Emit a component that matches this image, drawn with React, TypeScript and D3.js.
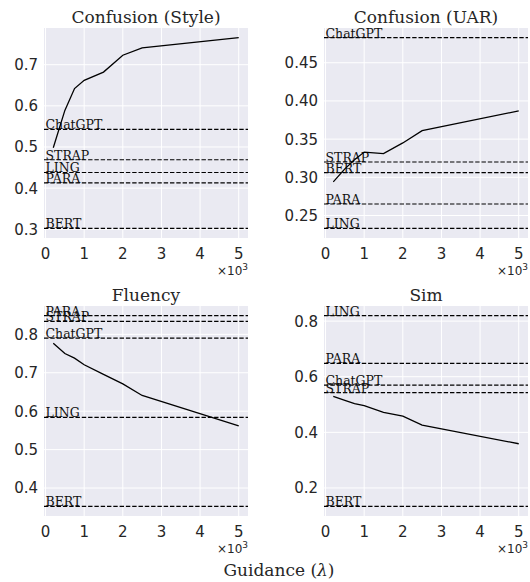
import React from 'react';
import * as d3 from 'd3';

// guidance strengths (lambda)
const lambdas = [200, 500, 750, 1000, 1500, 2000, 2500, 5000];
const xTicks = [0, 1000, 2000, 3000, 4000, 5000];
const baselineNames = ['ChatGPT', 'STRAP', 'LING', 'PARA', 'BERT'];

const styleValues = [0.498, 0.589, 0.642, 0.662, 0.682, 0.723, 0.741, 0.766];
const styleBaselines = [0.543, 0.469, 0.438, 0.413, 0.302];
const styleTicks = [0.3, 0.4, 0.5, 0.6, 0.7];

const uarValues = [0.294, 0.311, 0.323, 0.333, 0.331, 0.345, 0.361, 0.387];
const uarBaselines = [0.483, 0.32, 0.233, 0.265, 0.306];
const uarTicks = [0.25, 0.3, 0.35, 0.4, 0.45];

const fluencyValues = [0.777, 0.75, 0.738, 0.721, 0.696, 0.671, 0.641, 0.562];
const fluencyBaselines = [0.79, 0.834, 0.584, 0.849, 0.352];
const fluencyTicks = [0.4, 0.5, 0.6, 0.7, 0.8];

const simValues = [0.529, 0.515, 0.503, 0.496, 0.472, 0.458, 0.426, 0.359];
const simBaselines = [0.57, 0.543, 0.82, 0.648, 0.1335];
const simTicks = [0.2, 0.4, 0.6, 0.8];

const SERIF = '"DejaVu Serif", serif';
const SANS = '"DejaVu Sans", sans-serif';
const INK = '#262626';

interface PanelProps {
  title: string;
  values: number[];
  baselines: number[];
  yTicks: number[];
  digits: number;
  left: number;
  top: number;
}

const W = 204;
const H = 210;

// matplotlib-like 5% margins around the data
const padded = (lo: number, hi: number): [number, number] => {
  const m = (hi - lo) * 0.05;
  return [lo - m, hi + m];
};

const Panel: React.FC<PanelProps> = ({ title, values, baselines, yTicks, digits, left, top }) => {
  const x = d3.scaleLinear().domain(padded(d3.min(lambdas)!, d3.max(lambdas)!)).range([0, W]);
  const all = values.concat(baselines);
  const y = d3.scaleLinear().domain(padded(d3.min(all)!, d3.max(all)!)).range([H, 0]);
  const line = d3
    .line<number>()
    .x((_, i) => x(lambdas[i]))
    .y((d) => y(d));

  return (
    <g transform={`translate(${left},${top})`}>
      <rect width={W} height={H} fill="#eaeaf2" />
      {xTicks.map((t) => (
        <line key={'gx' + t} x1={x(t)} x2={x(t)} y1={0} y2={H} stroke="#fff" strokeWidth={1} />
      ))}
      {yTicks.map((t) => (
        <line key={'gy' + t} x1={0} x2={W} y1={y(t)} y2={y(t)} stroke="#fff" strokeWidth={1} />
      ))}
      {baselines.map((b, i) => (
        <g key={baselineNames[i]}>
          <line x1={0} x2={W} y1={y(b)} y2={y(b)} stroke="#000" strokeWidth={1.2} strokeDasharray="4.4,1.9" />
          <text x={x(0)} y={y(b)} fontFamily={SERIF} fontSize={12.5} fill="#111">
            {baselineNames[i]}
          </text>
        </g>
      ))}
      <path d={line(values) ?? ''} fill="none" stroke="#000" strokeWidth={1.3} />
      {xTicks.map((t) => (
        <text key={'tx' + t} x={x(t)} y={H + 21} textAnchor="middle" fontFamily={SANS} fontSize={15} fill={INK}>
          {d3.format('d')(t / 1000)}
        </text>
      ))}
      {yTicks.map((t) => (
        <text
          key={'ty' + t}
          x={-6}
          y={y(t)}
          dy="0.36em"
          textAnchor="end"
          fontFamily={SANS}
          fontSize={15}
          fill={INK}
        >
          {t.toFixed(digits)}
        </text>
      ))}
      <text x={W} y={H + 37} textAnchor="end" fontFamily={SANS} fontSize={12} fill={INK}>
        ×10<tspan dy={-5} fontSize={9}>3</tspan>
      </text>
      <text x={W / 2} y={-5} textAnchor="middle" fontFamily={SERIF} fontSize={17} fill={INK}>
        {title}
      </text>
    </g>
  );
};

const App: React.FC = () => (
  <div style={{ position: 'absolute', left: 0, top: 0 }}>
    <svg width={530} height={582} style={{ display: 'block', background: '#fff' }}>
      <Panel title="Confusion (Style)" values={styleValues} baselines={styleBaselines} yTicks={styleTicks} digits={1} left={44} top={28} />
      <Panel title="Confusion (UAR)" values={uarValues} baselines={uarBaselines} yTicks={uarTicks} digits={2} left={324} top={28} />
      <Panel title="Fluency" values={fluencyValues} baselines={fluencyBaselines} yTicks={fluencyTicks} digits={1} left={44} top={306} />
      <Panel title="Sim" values={simValues} baselines={simBaselines} yTicks={simTicks} digits={1} left={324} top={306} />
      <text x={279} y={576} textAnchor="middle" fontFamily={SERIF} fontSize={17} fill={INK}>
        Guidance (<tspan fontStyle="italic">λ</tspan>)
      </text>
    </svg>
  </div>
);

export default App;
